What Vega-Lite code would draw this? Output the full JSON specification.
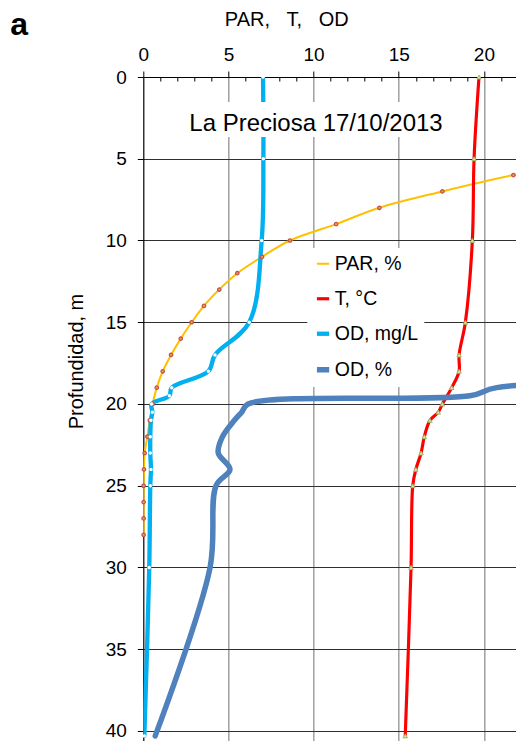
{
  "$schema": "https://vega.github.io/schema/vega-lite/v6.json",
  "width": 373,
  "height": 663.8,
  "autosize": {"type": "none"},
  "padding": {"left": 143.3, "top": 77, "right": 0, "bottom": 0},
  "background": "white",
  "title": {"text": "a", "anchor": "start", "frame": "group", "font": "Liberation Sans", "fontSize": 32, "fontWeight": "bold", "color": "black", "baseline": "alphabetic", "dx": -133, "dy": 58, "offset": 0},
  "config": {"view": {"stroke": null}},
  "datasets": {
    "profiles": [
      {"series": "PAR, %", "depth": 5, "value": 27},
      {"series": "PAR, %", "depth": 6, "value": 21.73},
      {"series": "PAR, %", "depth": 7, "value": 17.56},
      {"series": "PAR, %", "depth": 8, "value": 13.86},
      {"series": "PAR, %", "depth": 9, "value": 11.32},
      {"series": "PAR, %", "depth": 10, "value": 8.61},
      {"series": "PAR, %", "depth": 11, "value": 6.97},
      {"series": "PAR, %", "depth": 12, "value": 5.52},
      {"series": "PAR, %", "depth": 13, "value": 4.46},
      {"series": "PAR, %", "depth": 14, "value": 3.56},
      {"series": "PAR, %", "depth": 15, "value": 2.84},
      {"series": "PAR, %", "depth": 16, "value": 2.2},
      {"series": "PAR, %", "depth": 17, "value": 1.63},
      {"series": "PAR, %", "depth": 18, "value": 1.14},
      {"series": "PAR, %", "depth": 19, "value": 0.79},
      {"series": "PAR, %", "depth": 20, "value": 0.55},
      {"series": "PAR, %", "depth": 21, "value": 0.38},
      {"series": "PAR, %", "depth": 22, "value": 0.24},
      {"series": "PAR, %", "depth": 23, "value": 0.08},
      {"series": "PAR, %", "depth": 24, "value": 0.04},
      {"series": "PAR, %", "depth": 25, "value": 0.02},
      {"series": "PAR, %", "depth": 26, "value": 0.02},
      {"series": "PAR, %", "depth": 27, "value": 0.02},
      {"series": "PAR, %", "depth": 28, "value": 0.02},
      {"series": "T, °C", "depth": 0, "value": 19.71},
      {"series": "T, °C", "depth": 5, "value": 19.42},
      {"series": "T, °C", "depth": 10, "value": 19.32},
      {"series": "T, °C", "depth": 15, "value": 18.91},
      {"series": "T, °C", "depth": 17, "value": 18.54},
      {"series": "T, °C", "depth": 18, "value": 18.54},
      {"series": "T, °C", "depth": 19, "value": 18.11},
      {"series": "T, °C", "depth": 20, "value": 17.56},
      {"series": "T, °C", "depth": 20.5, "value": 17.32},
      {"series": "T, °C", "depth": 21, "value": 16.83},
      {"series": "T, °C", "depth": 22, "value": 16.5},
      {"series": "T, °C", "depth": 23, "value": 16.31},
      {"series": "T, °C", "depth": 24, "value": 16.0},
      {"series": "T, °C", "depth": 25, "value": 15.82},
      {"series": "T, °C", "depth": 30, "value": 15.72},
      {"series": "T, °C", "depth": 40.3, "value": 15.38},
      {"series": "OD, mg/L", "depth": 0, "value": 7.03},
      {"series": "OD, mg/L", "depth": 5, "value": 7.05},
      {"series": "OD, mg/L", "depth": 10, "value": 6.95},
      {"series": "OD, mg/L", "depth": 15, "value": 6.22},
      {"series": "OD, mg/L", "depth": 17, "value": 4.21},
      {"series": "OD, mg/L", "depth": 18, "value": 3.82},
      {"series": "OD, mg/L", "depth": 19, "value": 1.67},
      {"series": "OD, mg/L", "depth": 19.5, "value": 1.53},
      {"series": "OD, mg/L", "depth": 20, "value": 0.49},
      {"series": "OD, mg/L", "depth": 20.5, "value": 0.53},
      {"series": "OD, mg/L", "depth": 21, "value": 0.45},
      {"series": "OD, mg/L", "depth": 22, "value": 0.41},
      {"series": "OD, mg/L", "depth": 23, "value": 0.41},
      {"series": "OD, mg/L", "depth": 24, "value": 0.45},
      {"series": "OD, mg/L", "depth": 25, "value": 0.41},
      {"series": "OD, mg/L", "depth": 30, "value": 0.35},
      {"series": "OD, mg/L", "depth": 40.3, "value": 0.06},
      {"series": "OD, %", "depth": 0, "value": 88},
      {"series": "OD, %", "depth": 5, "value": 88},
      {"series": "OD, %", "depth": 10, "value": 87},
      {"series": "OD, %", "depth": 15, "value": 78},
      {"series": "OD, %", "depth": 17, "value": 53},
      {"series": "OD, %", "depth": 18, "value": 48},
      {"series": "OD, %", "depth": 19, "value": 20.75},
      {"series": "OD, %", "depth": 19.5, "value": 19.18},
      {"series": "OD, %", "depth": 20, "value": 6.15},
      {"series": "OD, %", "depth": 20.5, "value": 5.78},
      {"series": "OD, %", "depth": 21, "value": 5.35},
      {"series": "OD, %", "depth": 22, "value": 4.65},
      {"series": "OD, %", "depth": 23, "value": 4.4},
      {"series": "OD, %", "depth": 24, "value": 5.09},
      {"series": "OD, %", "depth": 25, "value": 4.27},
      {"series": "OD, %", "depth": 30, "value": 3.92},
      {"series": "OD, %", "depth": 40.3, "value": 0.7}
    ],
    "note": [{"label": "La Preciosa 17/10/2013"}]
  },
  "layer": [
    {
      "data": {"name": "profiles"},
      "encoding": {
        "x": {"field": "value", "type": "quantitative", "scale": {"domain": [0, 21.9], "nice": false, "zero": false},
          "axis": {
            "orient": "top",
            "values": [0,1,2,3,4,5,6,7,8,9,10,11,12,13,14,15,16,17,18,19,20,21],
            "labelExpr": "datum.value % 5 === 0 ? datum.label : ''",
            "labelOverlap": false, "labelFlush": false,
            "labelFont": "Liberation Sans", "labelFontSize": 19, "labelColor": "black",
            "labelPadding": 11, "labelBaseline": "alphabetic",
            "tickSize": {"condition": {"test": "datum.value % 5 === 0", "value": 6}, "value": -4},
            "tickColor": "black", "tickWidth": 1,
            "domainColor": "black", "domainWidth": 1.2,
            "grid": true, "gridColor": "#a0a0a0", "gridWidth": 1.5,
            "gridOpacity": {"condition": {"test": "datum.value % 5 === 0 && datum.value > 0", "value": 1}, "value": 0},
            "title": "PAR,\u00a0\u00a0\u00a0T,\u00a0\u00a0\u00a0OD",
            "titleFont": "Liberation Sans", "titleFontSize": 20, "titleFontWeight": "normal", "titleColor": "black",
            "titleX": 143, "titleY": -52, "titleAlign": "center", "titleBaseline": "alphabetic"
          }},
        "y": {"field": "depth", "type": "quantitative", "scale": {"domain": [0, 40.6], "nice": false, "zero": false, "reverse": true},
          "axis": {
            "values": [0,5,10,15,20,25,30,35,40],
            "labelFlush": false, "labelOverlap": false,
            "labelFont": "Liberation Sans", "labelFontSize": 19, "labelColor": "black", "labelPadding": 11,
            "tickSize": 6, "tickColor": "black", "tickWidth": 1,
            "domainColor": "black", "domainWidth": 1.2,
            "grid": true, "gridColor": "#303030", "gridWidth": 1.2,
            "title": "Profundidad, m",
            "titleFont": "Liberation Sans", "titleFontSize": 20, "titleFontWeight": "normal", "titleColor": "black",
            "titleAngle": -90, "titleX": -61, "titleY": 284, "titleAlign": "center", "titleBaseline": "alphabetic"
          }}
      },
      "layer": [
        {
          "mark": {"type": "line", "interpolate": "catmull-rom", "clip": true, "strokeCap": "round", "strokeJoin": "round"},
          "encoding": {
            "order": {"field": "depth", "type": "quantitative"},
            "color": {"field": "series", "type": "nominal",
              "scale": {"domain": ["PAR, %", "T, °C", "OD, mg/L", "OD, %"], "range": ["#FFC000", "#FF0000", "#00B0F0", "#4F81BD"]},
              "legend": {"title": null, "orient": "none", "legendX": 164, "legendY": 171, "fillColor": "white", "padding": 6,
                "rowPadding": 14, "labelFont": "Liberation Sans", "labelFontSize": 19.5, "labelColor": "black",
                "symbolType": "stroke", "symbolSize": 150, "labelOffset": 2}},
            "strokeWidth": {"field": "series", "type": "nominal",
              "scale": {"domain": ["PAR, %", "T, °C", "OD, mg/L", "OD, %"], "range": [2, 5.5, 5, 4.5]}}
          }
        },
        {
          "transform": [{"filter": "datum.series === 'PAR, %'"}],
          "mark": {"type": "point", "shape": "circle", "filled": true, "fill": "#F79646", "stroke": "#C0504D", "strokeWidth": 1.2, "size": 12, "opacity": 1}
        },
        {
          "transform": [{"filter": "datum.series === 'T, °C'"}],
          "mark": {"type": "point", "shape": "triangle-up", "filled": true, "fill": "#D7E4BD", "stroke": "#9BBB59", "strokeWidth": 1, "size": 20, "opacity": 1}
        },
        {
          "transform": [{"filter": "datum.series === 'OD, mg/L'"}],
          "mark": {"type": "point", "shape": "circle", "filled": true, "fill": "white", "strokeWidth": 0, "size": 12, "opacity": 1}
        }
      ]
    },
    {
      "data": {"name": "note"},
      "mark": {"type": "rect", "color": "white"},
      "encoding": {
        "x": {"datum": 2.3, "type": "quantitative",
          "axis": {
            "orient": "top",
            "values": [0,1,2,3,4,5,6,7,8,9,10,11,12,13,14,15,16,17,18,19,20,21],
            "labelExpr": "datum.value % 5 === 0 ? datum.label : ''",
            "labelOverlap": false, "labelFlush": false,
            "labelFont": "Liberation Sans", "labelFontSize": 19, "labelColor": "black",
            "labelPadding": 11, "labelBaseline": "alphabetic",
            "tickSize": {"condition": {"test": "datum.value % 5 === 0", "value": 6}, "value": -4},
            "tickColor": "black", "tickWidth": 1,
            "domainColor": "black", "domainWidth": 1.2,
            "grid": true, "gridColor": "#a0a0a0", "gridWidth": 1.5,
            "gridOpacity": {"condition": {"test": "datum.value % 5 === 0 && datum.value > 0", "value": 1}, "value": 0},
            "title": "PAR,\u00a0\u00a0\u00a0T,\u00a0\u00a0\u00a0OD",
            "titleFont": "Liberation Sans", "titleFontSize": 20, "titleFontWeight": "normal", "titleColor": "black",
            "titleX": 143, "titleY": -52, "titleAlign": "center", "titleBaseline": "alphabetic"
          }},
        "x2": {"datum": 17.95},
        "y": {"datum": 1.53, "type": "quantitative",
          "axis": {
            "values": [0,5,10,15,20,25,30,35,40],
            "labelFlush": false, "labelOverlap": false,
            "labelFont": "Liberation Sans", "labelFontSize": 19, "labelColor": "black", "labelPadding": 11,
            "tickSize": 6, "tickColor": "black", "tickWidth": 1,
            "domainColor": "black", "domainWidth": 1.2,
            "grid": true, "gridColor": "#303030", "gridWidth": 1.2,
            "title": "Profundidad, m",
            "titleFont": "Liberation Sans", "titleFontSize": 20, "titleFontWeight": "normal", "titleColor": "black",
            "titleAngle": -90, "titleX": -61, "titleY": 284, "titleAlign": "center", "titleBaseline": "alphabetic"
          }},
        "y2": {"datum": 3.67}
      }
    },
    {
      "data": {"name": "note"},
      "mark": {"type": "text", "font": "Liberation Sans", "fontSize": 24, "align": "center", "baseline": "alphabetic", "color": "black"},
      "encoding": {
        "x": {"datum": 10.14, "type": "quantitative",
          "axis": {
            "orient": "top",
            "values": [0,1,2,3,4,5,6,7,8,9,10,11,12,13,14,15,16,17,18,19,20,21],
            "labelExpr": "datum.value % 5 === 0 ? datum.label : ''",
            "labelOverlap": false, "labelFlush": false,
            "labelFont": "Liberation Sans", "labelFontSize": 19, "labelColor": "black",
            "labelPadding": 11, "labelBaseline": "alphabetic",
            "tickSize": {"condition": {"test": "datum.value % 5 === 0", "value": 6}, "value": -4},
            "tickColor": "black", "tickWidth": 1,
            "domainColor": "black", "domainWidth": 1.2,
            "grid": true, "gridColor": "#a0a0a0", "gridWidth": 1.5,
            "gridOpacity": {"condition": {"test": "datum.value % 5 === 0 && datum.value > 0", "value": 1}, "value": 0},
            "title": "PAR,\u00a0\u00a0\u00a0T,\u00a0\u00a0\u00a0OD",
            "titleFont": "Liberation Sans", "titleFontSize": 20, "titleFontWeight": "normal", "titleColor": "black",
            "titleX": 143, "titleY": -52, "titleAlign": "center", "titleBaseline": "alphabetic"
          }},
        "y": {"datum": 3.3, "type": "quantitative",
          "axis": {
            "values": [0,5,10,15,20,25,30,35,40],
            "labelFlush": false, "labelOverlap": false,
            "labelFont": "Liberation Sans", "labelFontSize": 19, "labelColor": "black", "labelPadding": 11,
            "tickSize": 6, "tickColor": "black", "tickWidth": 1,
            "domainColor": "black", "domainWidth": 1.2,
            "grid": true, "gridColor": "#303030", "gridWidth": 1.2,
            "title": "Profundidad, m",
            "titleFont": "Liberation Sans", "titleFontSize": 20, "titleFontWeight": "normal", "titleColor": "black",
            "titleAngle": -90, "titleX": -61, "titleY": 284, "titleAlign": "center", "titleBaseline": "alphabetic"
          }},
        "text": {"field": "label", "type": "nominal"}
      }
    }
  ]
}
